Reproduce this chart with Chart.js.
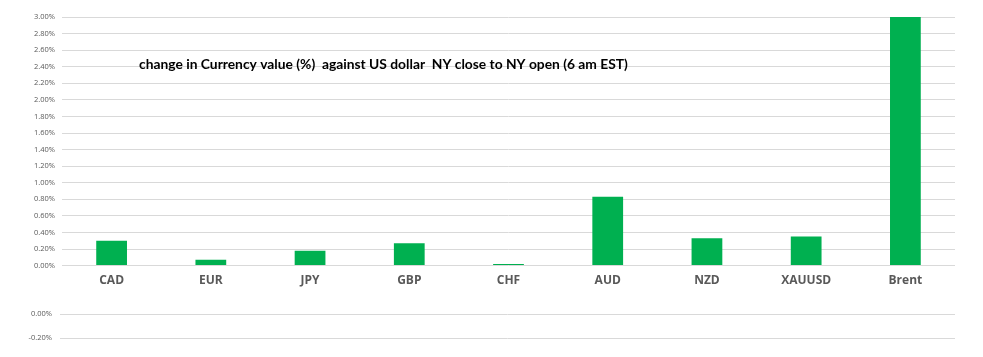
<!DOCTYPE html>
<html><head><meta charset="utf-8">
<script src="https://cdn.jsdelivr.net/npm/chart.js@4.4.1/dist/chart.umd.min.js"></script>
<style>
html,body{margin:0;padding:0;background:#fff;}
#wrap{position:relative;width:983px;height:357px;overflow:hidden;}
#c1{position:absolute;left:0;top:0;}
#c2{position:absolute;left:0;top:294px;}
</style></head>
<body><div id="wrap"><canvas id="c1" width="983" height="288"></canvas><canvas id="c2" width="983" height="63"></canvas></div>
<script>
const categories = ["CAD","EUR","JPY","GBP","CHF","AUD","NZD","XAUUSD","Brent"];
const changePct = [0.30,0.07,0.18,0.27,0.02,0.83,0.33,0.35,3.00];
const titleText = "change in Currency value (%)  against US dollar  NY close to NY open (6 am EST)";
const lowerAxisTicks = [0.00,-0.20];

const titlePlugin = {
  id:'titleText',
  afterDraw(chart){
    const ctx = chart.ctx;
    ctx.save();
    let size = 14;
    ctx.font = 'bold '+size+'px Lato, "Open Sans", sans-serif';
    const w = ctx.measureText(titleText).width;
    size = size*489/w;
    ctx.font = 'bold '+size.toFixed(2)+'px Lato, "Open Sans", sans-serif';
    ctx.fillStyle = '#000';
    ctx.textBaseline = 'middle';
    ctx.fillText(titleText, 139, 65);
    ctx.restore();
  }
};

const tickFont = {family:'"Open Sans", sans-serif', size:7.5};
new Chart(document.getElementById('c1'), {
  type:'bar',
  data:{labels:categories, datasets:[{data:changePct, backgroundColor:'#00B050', borderWidth:0, barPercentage:0.62, categoryPercentage:0.5}]},
  options:{
    responsive:false, animation:false,
    layout:{padding:{top:17,right:28,left:0,bottom:0}},
    plugins:{legend:{display:false}, tooltip:{enabled:false}},
    scales:{
      x:{grid:{display:false}, border:{display:false},
         ticks:{color:'#595959', font:{family:'"Open Sans", sans-serif', size:12, weight:'bold'}, padding:0}},
      y:{min:0,max:3, grid:{color:'#d9d9d9', drawTicks:false}, border:{display:false},
         afterFit(s){s.width=62;},
         ticks:{stepSize:0.2, color:'#595959', font:tickFont, padding:7,
                callback:v=>v.toFixed(2)+'%'}}
    }
  },
  plugins:[titlePlugin]
});

new Chart(document.getElementById('c2'), {
  type:'bar',
  data:{labels:categories, datasets:[{data:categories.map(()=>null), backgroundColor:'#00B050'}]},
  options:{
    responsive:false, animation:false,
    layout:{padding:{top:20,right:28,left:0,bottom:19}},
    plugins:{legend:{display:false}, tooltip:{enabled:false}},
    scales:{
      x:{display:false},
      y:{min:lowerAxisTicks[1], max:lowerAxisTicks[0], grid:{color:'#d9d9d9', drawTicks:false}, border:{display:false},
         afterFit(s){s.width=60;},
         afterBuildTicks(s){s.ticks = lowerAxisTicks.map(v=>({value:v}));},
         ticks:{color:'#595959', font:tickFont, padding:8, callback:v=>v.toFixed(2)+'%'}}
    }
  }
});
</script></body></html>
